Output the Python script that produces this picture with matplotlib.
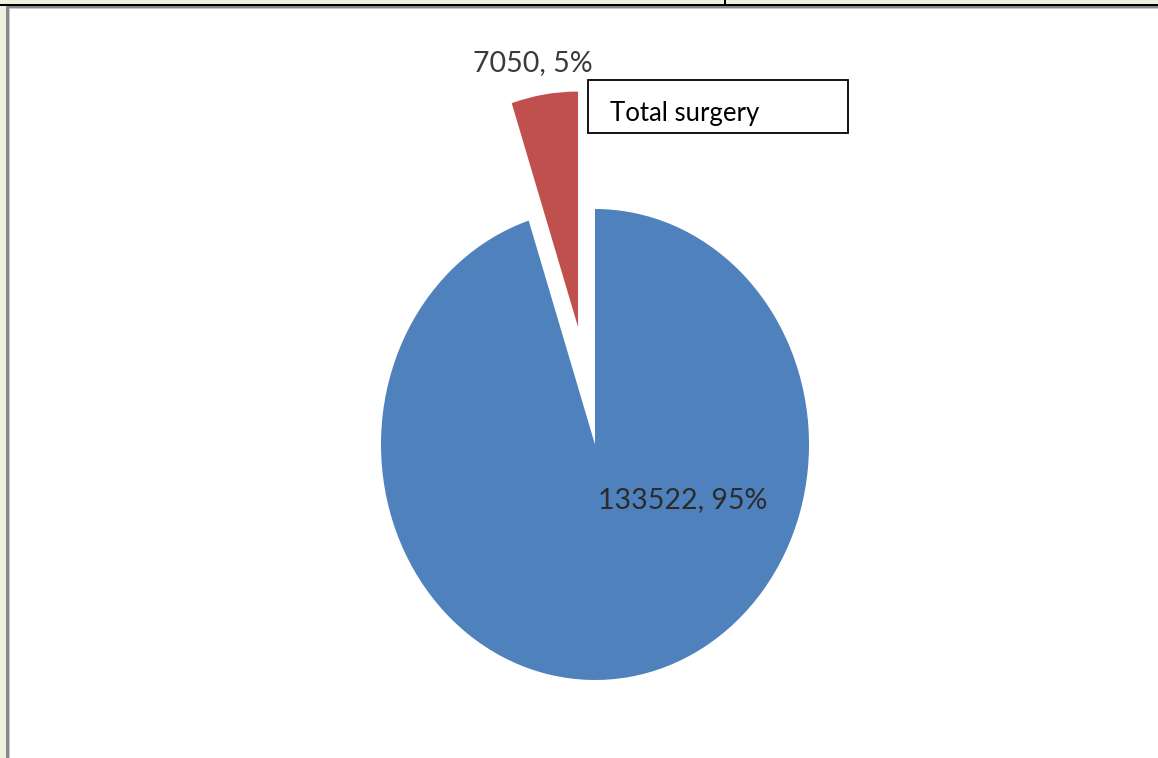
import matplotlib
matplotlib.use('Agg')
import matplotlib.pyplot as plt
from matplotlib.patches import Rectangle

# data
values = [133522, 7050]
colors = ['#4F81BD', '#C0504D']
legend_label = 'Total surgery'

total = sum(values)
labels = ['{}, {}%'.format(v, round(100 * v / total)) for v in values]

W, H = 1158, 758
fig = plt.figure(figsize=(W / 100, H / 100), dpi=100)
fig.patch.set_facecolor('white')

# background / frame decorations in pixel coords
bg = fig.add_axes([0, 0, 1, 1])
bg.set_xlim(0, W)
bg.set_ylim(H, 0)
bg.axis('off')
bg.add_patch(Rectangle((0, 0), W, 5, color='#EBF1DE', lw=0))
bg.add_patch(Rectangle((0, 0), 7, H, color='#EBF1DE', lw=0))
bg.add_patch(Rectangle((0, 4), W, 1.5, color='black', lw=0))
bg.add_patch(Rectangle((724, 0), 2, 5, color='black', lw=0))
bg.add_patch(Rectangle((6, 5.5), W, 2.5, color='#888888', lw=0))
bg.add_patch(Rectangle((6, 5.5), 2.5, H, color='#888888', lw=0))
bg.add_patch(Rectangle((8.5, 8), W, 1, color='#C8C8C8', lw=0))
bg.add_patch(Rectangle((8.5, 8), 1, H, color='#C8C8C8', lw=0))

# pie axes (stretched vertically like the original)
ax = fig.add_axes([0, 0, 1, 1])
rx, ry = 214, 235.5
cx, cy = 595, 444.5
ax.pie(values, colors=colors, startangle=90, counterclock=False,
       explode=[0, 0.505], radius=1, frame=True,
       wedgeprops=dict(linewidth=0))
ax.axis('off')
ax.set_xlim(-cx / rx, (W - cx) / rx)
ax.set_ylim(-(H - cy) / ry, cy / ry)
ax.set_aspect('auto')

ax.text(0.41, -0.235, labels[0], ha='center', va='center',
        fontsize=20.5, color='#2b2b2b', family='Lato')
ax.text(-0.29, 1.62, labels[1], ha='center', va='center',
        fontsize=20.5, color='#3a3a3a', family='Lato')

# legend box
bg.add_patch(Rectangle((588, 80), 260, 53, facecolor='white',
                       edgecolor='black', lw=1.3))
t = bg.text(610, 121, legend_label, ha='left', va='baseline',
            fontsize=18.5, color='black', family='Lato')
clip = Rectangle((588, 80), 260, 43, transform=bg.transData)
t.set_clip_path(clip)

fig.savefig('out.png', dpi=100)
